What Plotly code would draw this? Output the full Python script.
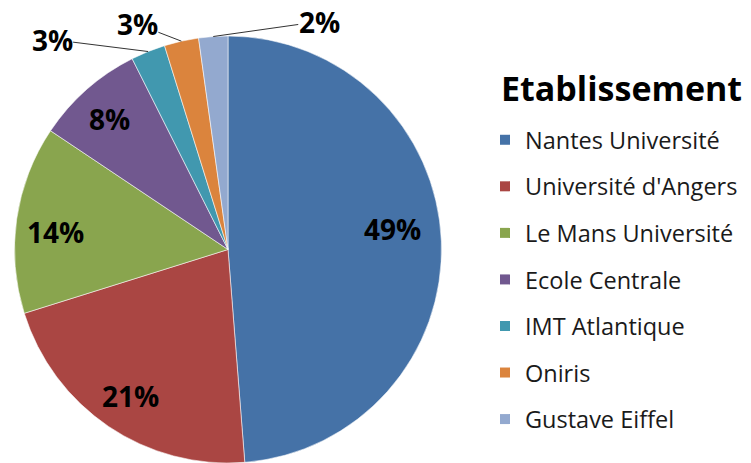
import math
import plotly.graph_objects as go

# ---- data ----
categories = ["Nantes Université", "Université d'Angers", "Le Mans Université",
              "Ecole Centrale", "IMT Atlantique", "Oniris", "Gustave Eiffel"]
shares = [48.7, 21.4, 14.2, 8.2, 2.6, 2.6, 2.2]
colors = ["#4572A7", "#AA4643", "#89A54E", "#71588F", "#4198AF", "#DB843D", "#93A9CF"]
legend_title = "Etablissement"

# ---- layout geometry ----
W, H = 751, 463
ML, MR, MT, MB = 0, 0, 36, 0
PW, PH = W - ML - MR, H - MT - MB
R = PH / 2.0
CX_PX = 228.0
CY_PX = MT + R
FONT = "Open Sans"


def to_paper(px, py):
    return px / PW, (H - MB - py) / PH


fig = go.Figure()
fig.add_trace(go.Pie(
    labels=categories, values=shares, sort=False, direction="clockwise", rotation=0,
    marker=dict(colors=colors, line=dict(color="rgba(255,255,255,0.55)", width=1)),
    textinfo="none", hoverinfo="label+percent", showlegend=False,
    domain=dict(x=[(CX_PX - R) / PW, (CX_PX + R) / PW], y=[0, 1]),
))

# legend entries (square swatches), one group per category for spacing
for name, col in zip(categories, colors):
    fig.add_trace(go.Scatter(
        x=[None], y=[None], mode="markers", name=name, legendgroup=name,
        marker=dict(symbol="square", size=10, color=col),
        showlegend=True, hoverinfo="skip",
    ))

# percentage labels computed from the data angles
total = sum(shares)
cum = 0.0
outside_offsets = {4: (-96, -12), 5: (-44, -17), 6: (106, -15)}
inside_nudge = {0: (-6, -14), 1: (-2, 5), 2: (-3, 7), 3: (-5, -2)}
for i, v in enumerate(shares):
    mid = (cum + v / 2.0) / total * 2 * math.pi
    cum += v
    pct = f"{round(v / total * 100):.0f}%"
    if i in outside_offsets:
        px = CX_PX + R * math.sin(mid)
        py = CY_PX - R * math.cos(mid)
        ax, ay = outside_offsets[i]
        x, y = to_paper(px, py)
        fig.add_annotation(
            x=x, y=y, xref="paper", yref="paper",
            text=f"<b>{pct}</b>", showarrow=True, arrowhead=0, arrowwidth=1,
            arrowcolor="#333", ax=ax, ay=ay, standoff=0, borderpad=0,
            xanchor="center", yanchor="middle",
            font=dict(family=FONT, size=28, color="#000"),
        )
    else:
        f = 0.80
        dx, dy = inside_nudge.get(i, (0, 0))
        px = CX_PX + f * R * math.sin(mid) + dx
        py = CY_PX - f * R * math.cos(mid) + dy
        x, y = to_paper(px, py)
        fig.add_annotation(
            x=x, y=y, xref="paper", yref="paper",
            text=f"<b>{pct}</b>", showarrow=False,
            xanchor="center", yanchor="middle",
            font=dict(family=FONT, size=28, color="#000"),
        )

# legend heading
tx, ty = to_paper(499, 88)
fig.add_annotation(
    x=tx, y=ty, xref="paper", yref="paper", showarrow=False,
    text=f"<b>{legend_title}</b>", xanchor="left", yanchor="middle",
    font=dict(family=FONT, size=34, color="#000"),
)

fig.update_layout(
    width=W, height=H,
    margin=dict(l=ML, r=MR, t=MT, b=MB),
    paper_bgcolor="white", plot_bgcolor="white",
    font=dict(family=FONT, color="#000"),
    xaxis=dict(visible=False), yaxis=dict(visible=False),
    legend=dict(
        font=dict(family=FONT, size=23.5, color="#1a1a1a"),
        x=485 / PW, xanchor="left", y=(H - MB - 118) / PH, yanchor="top",
        tracegroupgap=13, itemclick=False, itemdoubleclick=False,
        bgcolor="rgba(0,0,0,0)",
    ),
    showlegend=True,
)

fig.write_html("out.html", config={"displayModeBar": False},
               post_script="document.body.style.margin='0';")
